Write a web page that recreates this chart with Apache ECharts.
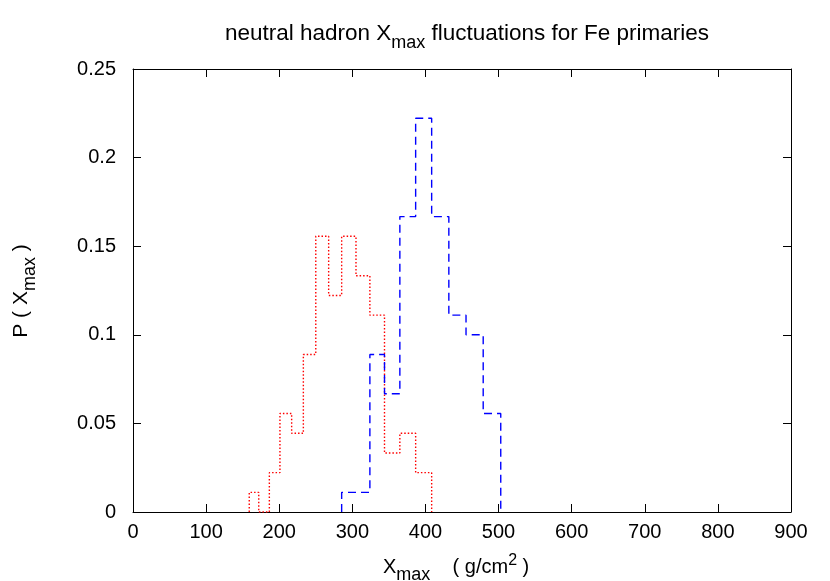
<!DOCTYPE html>
<html>
<head>
<meta charset="utf-8">
<script src="https://cdn.jsdelivr.net/npm/echarts@6/dist/echarts.min.js"></script>
<style>html,body{margin:0;padding:0;background:#fff}#c{width:830px;height:581px}</style>
</head>
<body>
<div id="c"></div>
<script>
// bin edges (g/cm^2)
const redEdges = [159, 172, 186.5, 201, 217, 233, 250, 267.6, 285.4, 305, 324, 344, 365, 386.6, 408.5];
const redValues = [0.0111, 0, 0.0222, 0.0556, 0.0444, 0.0889, 0.1556, 0.1222, 0.1556, 0.1333, 0.1111, 0.0333, 0.0444, 0.0222];
const blueEdges = [285.4, 305, 324, 344, 365, 386.6, 408.5, 432, 455.5, 479, 503];
const blueValues = [0.0111, 0.0111, 0.0889, 0.0667, 0.1667, 0.2222, 0.1667, 0.1111, 0.1000, 0.0556];
const xTicks = [0, 100, 200, 300, 400, 500, 600, 700, 800, 900];
const yTicks = [0, 0.05, 0.1, 0.15, 0.2, 0.25];

function stepPoints(edges, vals) {
  const pts = [[edges[0], 0]];
  for (let i = 0; i < vals.length; i++) {
    pts.push([edges[i], vals[i]]);
    pts.push([edges[i + 1], vals[i]]);
  }
  pts.push([edges[edges.length - 1], 0]);
  return pts;
}

const font = 'Liberation Sans, Arial, sans-serif';
const chart = echarts.init(document.getElementById('c'), null, {renderer: 'canvas'});
const axisLineStyle = {color: '#000', width: 1};
chart.setOption({
  animation: false,
  backgroundColor: '#fff',
  title: {
    text: '{a|neutral hadron X}{s|max}{a| fluctuations for Fe primaries}',
    left: 462, top: 16, textAlign: 'center',
    textStyle: {
      fontWeight: 'normal',
      rich: {
        a: {fontFamily: font, fontSize: 22.5, fontWeight: 'normal', color: '#000', verticalAlign: 'bottom', lineHeight: 24},
        s: {fontFamily: font, fontSize: 18, fontWeight: 'normal', color: '#000', verticalAlign: 'bottom', lineHeight: 15, padding: [0,0,-7,0]}
      }
    }
  },
  grid: {left: 133, right: 39, top: 69, bottom: 69, show: false},
  xAxis: [{
    type: 'value', min: 0, max: 900, interval: 100,
    axisLine: {show: true, onZero: false, lineStyle: axisLineStyle},
    axisTick: {show: true, inside: true, length: 8, lineStyle: {color: '#000'}},
    axisLabel: {fontFamily: font, fontSize: 20, color: '#000', margin: 10},
    splitLine: {show: false}
  }, {
    type: 'value', min: 0, max: 900, interval: 100, position: 'top',
    axisLine: {show: true, onZero: false, lineStyle: axisLineStyle},
    axisTick: {show: true, inside: true, length: 8, lineStyle: {color: '#000'}},
    axisLabel: {show: false}, splitLine: {show: false}
  }],
  yAxis: [{
    type: 'value', min: 0, max: 0.25, interval: 0.05,
    axisLine: {show: true, onZero: false, lineStyle: axisLineStyle},
    axisTick: {show: true, inside: true, length: 8, lineStyle: {color: '#000'}},
    axisLabel: {fontFamily: font, fontSize: 20, color: '#000', margin: 17,
      formatter: v => String(+v.toFixed(2))},
    splitLine: {show: false}
  }, {
    type: 'value', min: 0, max: 0.25, interval: 0.05, position: 'right',
    axisLine: {show: true, onZero: false, lineStyle: axisLineStyle},
    axisTick: {show: true, inside: true, length: 8, lineStyle: {color: '#000'}},
    axisLabel: {show: false}, splitLine: {show: false}
  }],
  graphic: [{
    type: 'text', left: 383, top: 553,
    style: {
      text: '{a|X}{s|max}{a|    ( g/cm}{p|2}{a| )}',
      rich: {
        a: {fontFamily: font, fontSize: 20, fill: '#000', verticalAlign: 'bottom', lineHeight: 24},
        s: {fontFamily: font, fontSize: 18, fill: '#000', verticalAlign: 'bottom', lineHeight: 15, padding: [0,0,-7,0]},
        p: {fontFamily: font, fontSize: 16, fill: '#000', verticalAlign: 'top', lineHeight: 15, padding: [0,0,12,0]}
      }
    }
  }, {
    type: 'text', x: 20, y: 291, rotation: Math.PI / 2,
    style: {
      text: '{a|P ( X}{s|max}{a| )}',
      align: 'center', verticalAlign: 'middle',
      rich: {
        a: {fontFamily: font, fontSize: 21, fill: '#000', verticalAlign: 'bottom', lineHeight: 24},
        s: {fontFamily: font, fontSize: 18, fill: '#000', verticalAlign: 'bottom', lineHeight: 15, padding: [0,0,-7,0]}
      }
    }
  }],
  series: [{
    type: 'line', data: stepPoints(redEdges, redValues), showSymbol: false, symbol: 'none',
    lineStyle: {color: '#ff0000', width: 1.4, type: [1.5, 2]}, z: 3
  }, {
    type: 'line', data: stepPoints(blueEdges, blueValues), showSymbol: false, symbol: 'none',
    lineStyle: {color: '#0000ff', width: 1.4, type: [8, 5]}, z: 3
  }]
});
</script>
</body>
</html>
